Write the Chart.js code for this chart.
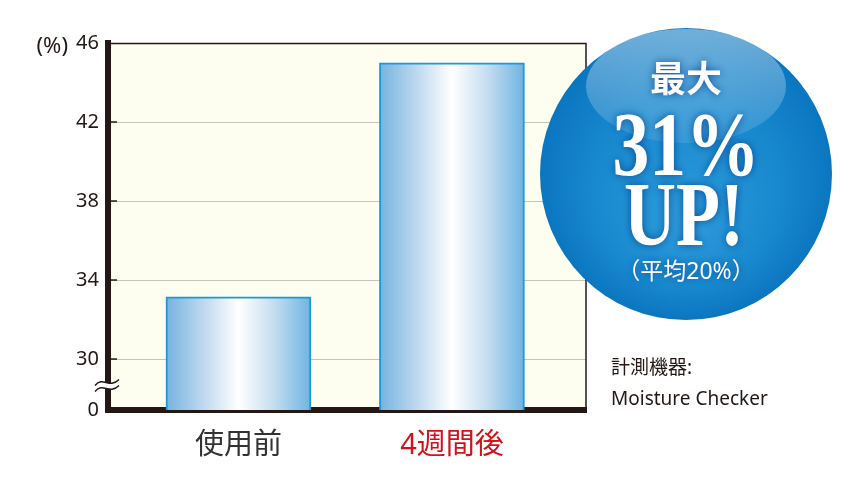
<!DOCTYPE html>
<html>
<head>
<meta charset="utf-8">
<script src="https://cdn.jsdelivr.net/npm/chart.js@4.4.1/dist/chart.umd.min.js"></script>
<style>
  html, body { margin: 0; padding: 0; background: #fff; }
</style>
</head>
<body>
<canvas id="chart" width="865" height="487"></canvas>
<script>
const categories = ['使用前', '4週間後'];
const categoryColors = ['#333333', '#d0121b'];
const values = [33.15, 45.0];
const yTicks = [30, 34, 38, 42, 46];
const zeroLabel = '0';
const zeroAt = 27.42; // where the broken axis puts "0"
const yMax = 46;

const INK = '#231815';
const FONT = '"Noto Sans", "Noto Sans CJK JP", sans-serif';
const SERIF = '"Liberation Serif", "DejaVu Serif", serif';
const BAR_W = 145;

// bar fill: blue at the edges, white in the middle
function barFill(context) {
    const chart = context.chart;
    const xs = chart.scales.x;
    if (!xs || !chart.chartArea) return '#9cc8ea';
    const raw = context.raw;
    const cx = xs.getPixelForValue(raw ? raw.x : 1);
    const g = chart.ctx.createLinearGradient(cx - BAR_W / 2, 0, cx + BAR_W / 2, 0);
    g.addColorStop(0, '#74b3e0');
    g.addColorStop(0.25, '#bcd7ee');
    g.addColorStop(0.5, '#ffffff');
    g.addColorStop(0.75, '#c3dcf0');
    g.addColorStop(1, '#6db4e2');
    return g;
}

const plotDeco = {
    id: 'plotDeco',
    beforeDraw(chart) {
        const { ctx, chartArea: a } = chart;
        ctx.save();
        ctx.fillStyle = '#fdfdf0';
        ctx.fillRect(a.left, a.top, a.right - a.left, a.bottom - a.top);
        ctx.restore();
    },
    afterDraw(chart) {
        const { ctx, chartArea: a } = chart;
        const ys = chart.scales.y;
        ctx.save();

        // thin frame on top and right
        ctx.strokeStyle = INK;
        ctx.lineWidth = 1.5;
        ctx.beginPath();
        ctx.moveTo(a.left, a.top + 0.5);
        ctx.lineTo(a.right, a.top + 0.5);
        ctx.lineTo(a.right, a.bottom);
        ctx.stroke();

        // short inner tick marks
        ctx.lineWidth = 1.5;
        yTicks.slice(0, -1).forEach(v => {
            const y = ys.getPixelForValue(v);
            ctx.beginPath();
            ctx.moveTo(a.left, y);
            ctx.lineTo(a.left + 9, y);
            ctx.stroke();
        });

        // axis break mark
        const yb = (ys.getPixelForValue(zeroAt) + ys.getPixelForValue(30)) / 2 + 1;
        const x0 = a.left - 13, x1 = a.left + 11;
        const wave = (off) => {
            ctx.moveTo(x0, yb + off + 3);
            ctx.bezierCurveTo(x0 + 8, yb + off - 7, x0 + 14, yb + off + 7, x1, yb + off - 3);
        };
        ctx.beginPath();
        ctx.moveTo(x0, yb);
        ctx.bezierCurveTo(x0 + 8, yb - 10, x0 + 14, yb + 4, x1, yb - 6);
        ctx.lineTo(x1, yb);
        ctx.bezierCurveTo(x0 + 14, yb + 10, x0 + 8, yb - 4, x0, yb + 6);
        ctx.closePath();
        ctx.fillStyle = '#ffffff';
        ctx.fill();
        ctx.beginPath();
        wave(-3);
        wave(3);
        ctx.strokeStyle = INK;
        ctx.lineWidth = 1.4;
        ctx.stroke();

        // unit
        ctx.fillStyle = INK;
        ctx.font = '22px ' + FONT;
        ctx.textAlign = 'right';
        ctx.textBaseline = 'middle';
        ctx.fillText('(%)', 68, ys.getPixelForValue(yMax) + 4);

        // instrument note
        ctx.textAlign = 'left';
        ctx.font = '19px ' + FONT;
        ctx.fillText('計測機器:', 611, 369);
        ctx.fillText('Moisture Checker', 611, 400);

        // badge
        const cx = 686, cy = 174, r = 146;
        const rg = ctx.createRadialGradient(cx, cy + 50, 10, cx, cy, r);
        rg.addColorStop(0, '#2c9ad9');
        rg.addColorStop(0.6, '#1889cf');
        rg.addColorStop(1, '#0b76c0');
        ctx.beginPath();
        ctx.arc(cx, cy, r, 0, Math.PI * 2);
        ctx.fillStyle = rg;
        ctx.fill();

        const hg = ctx.createLinearGradient(0, 28, 0, 142);
        hg.addColorStop(0, 'rgba(255,255,255,0.42)');
        hg.addColorStop(1, 'rgba(255,255,255,0.1)');
        ctx.beginPath();
        ctx.ellipse(cx, 86, 100, 57, 0, 0, Math.PI * 2);
        ctx.fillStyle = hg;
        ctx.fill();

        ctx.fillStyle = '#ffffff';
        ctx.shadowColor = 'rgba(0,60,140,0.85)';
        ctx.shadowBlur = 8;
        ctx.textAlign = 'center';
        ctx.textBaseline = 'middle';
        ctx.font = 'bold 36px "Noto Sans CJK JP", sans-serif';
        ctx.fillText('最大', cx, 78);

        ctx.textBaseline = 'alphabetic';
        ctx.save();
        ctx.translate(cx, 175);
        ctx.scale(0.8, 1);
        ctx.font = 'bold 92px ' + SERIF;
        ctx.fillText('31%', 0, 0);
        ctx.restore();

        ctx.save();
        ctx.translate(cx - 2, 245);
        ctx.scale(0.8, 1);
        ctx.font = 'bold 90px ' + SERIF;
        ctx.fillText('UP!', 0, 0);
        ctx.restore();

        ctx.textBaseline = 'middle';
        ctx.font = '23px ' + FONT;
        ctx.fillText('（平均20%）', cx, 272);

        ctx.restore();
    }
};

new Chart(document.getElementById('chart'), {
    type: 'bar',
    data: {
        datasets: [{
            data: values.map((v, i) => ({ x: i + 1, y: v })),
            backgroundColor: barFill,
            borderColor: '#1b98d8',
            borderWidth: 2,
            borderSkipped: 'bottom',
            barThickness: BAR_W
        }]
    },
    options: {
        responsive: false,
        animation: false,
        devicePixelRatio: 1,
        layout: { padding: { top: 43, right: 279, bottom: 0, left: 0 } },
        plugins: { legend: { display: false }, tooltip: { enabled: false } },
        scales: {
            x: {
                type: 'linear',
                offset: false,
                min: 0.389,
                max: 2.628,
                afterBuildTicks: (scale) => {
                    scale.ticks = categories.map((c, i) => ({ value: i + 1 }));
                },
                afterFit: (scale) => { scale.height = 77; },
                grid: { display: false, drawTicks: false },
                border: { display: true, color: INK, width: 6 },
                ticks: {
                    padding: 18,
                    autoSkip: false,
                    maxRotation: 0,
                    color: (ctx) => categoryColors[ctx.index],
                    font: { family: FONT, size: 29 },
                    callback: (v, i) => categories[i]
                }
            },
            y: {
                min: zeroAt,
                max: yMax,
                afterBuildTicks: (scale) => {
                    scale.ticks = [zeroAt].concat(yTicks).map(v => ({ value: v }));
                },
                afterFit: (scale) => { scale.width = 108; },
                grid: {
                    drawTicks: false,
                    lineWidth: 1,
                    color: (ctx) => (ctx.tick && ctx.tick.value > zeroAt && ctx.tick.value < yMax) ? '#c4c4bc' : 'rgba(0,0,0,0)'
                },
                border: { display: true, color: INK, width: 6 },
                ticks: {
                    padding: 9,
                    color: INK,
                    font: { family: FONT, size: 20 },
                    callback: (v) => v === zeroAt ? zeroLabel : String(v)
                }
            }
        }
    },
    plugins: [plotDeco]
});
</script>
</body>
</html>
